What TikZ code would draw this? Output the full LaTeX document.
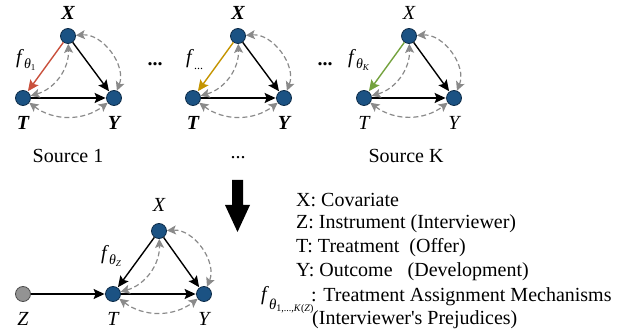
\documentclass[tikz,border=0pt]{standalone}
\usepackage{fontspec}
\setmainfont{Liberation Serif}
\newfontfamily\plainserif{Liberation Serif}
\usetikzlibrary{arrows.meta,shapes.geometric}
\definecolor{nodeblue}{HTML}{1B5283}
\definecolor{nodeedge}{HTML}{0E2C48}
\definecolor{dgray}{HTML}{8A8A8A}
\definecolor{fred}{HTML}{C9503C}
\definecolor{fgold}{HTML}{C49400}
\definecolor{fgreen}{HTML}{74A23E}
\newcommand{\fsub}[1]{\textit{f}\raisebox{-5pt}{\fontsize{14}{14}\selectfont #1}}
\newcommand{\thsub}[1]{\textit{θ}\raisebox{-2.5pt}{\fontsize{9}{9}\selectfont #1}}
\begin{document}
\begin{tikzpicture}[x=1pt,y=-1pt,
  vnode/.style={circle,draw=nodeedge,line width=0.8pt,fill=nodeblue,minimum size=15pt,inner sep=0pt},
  znode/.style={circle,draw=black!70,line width=0.8pt,fill=gray!85,minimum size=15pt,inner sep=0pt},
  lab/.style={font=\fontsize{20}{20}\selectfont\itshape,inner sep=0pt},
  blab/.style={font=\fontsize{20}{20}\selectfont\bfseries\itshape,inner sep=0pt},
  txt/.style={font=\fontsize{20}{20}\selectfont,inner sep=0pt,anchor=west},
  solid arrow/.style={line width=1.4pt,-{Stealth[length=11pt,width=10pt,inset=2pt]},shorten >=0.5pt},
  bidir/.style={dgray,line width=1.2pt,dash pattern=on 5pt off 3pt,{Stealth[length=9pt,width=9pt,inset=2pt]}-{Stealth[length=9pt,width=9pt,inset=2pt]}},
  bxt/.style={bend right=38},
  bxy/.style={bend left=58},
  bty/.style={bend right=37},
  fl/.style={inner sep=0pt,anchor=west,font=\fontsize{20}{20}\selectfont},
]
\useasboundingbox (0,0) rectangle (628,336);

% ---------- Panel 1 ----------
\node[vnode] (X1) at (68,36) {};
\node[vnode] (T1) at (23,98) {};
\node[vnode] (Y1) at (114,98) {};
\node[blab] (lX1) at (68,13) {X};
\node[blab] (lT1) at (23,123) {T};
\node[blab] (lY1) at (114,123) {Y};
\node[txt,anchor=center] (s1) at (68,156) {Source 1};
\draw[solid arrow] (X1) -- (Y1);
\draw[solid arrow] (T1) -- (Y1);
\draw[solid arrow,fred] (X1) -- (T1);
\draw[bidir] (T1) to[bxt] (X1);
\draw[bidir] (X1) to[bxy] (Y1);
\draw[bidir] (T1) to[bty] (Y1);
\node[fl] (f1) at (16,60) {\fsub{\thsub{1}}};

% ---------- Panel 2 ----------
\node[vnode] (X2) at (238,36) {};
\node[vnode] (T2) at (193,98) {};
\node[vnode] (Y2) at (284,98) {};
\node[blab] (lX2) at (238,13) {X};
\node[blab] (lT2) at (193,123) {T};
\node[blab] (lY2) at (284,123) {Y};
\node[txt,anchor=center] (s2) at (238,158) {...};
\draw[solid arrow] (X2) -- (Y2);
\draw[solid arrow] (T2) -- (Y2);
\draw[solid arrow,fgold] (X2) -- (T2);
\draw[bidir] (T2) to[bxt] (X2);
\draw[bidir] (X2) to[bxy] (Y2);
\draw[bidir] (T2) to[bty] (Y2);
\node[fl] (f2) at (186,60) {\textit{f}\raisebox{-6pt}{\fontsize{12}{12}\selectfont ...}};

% ---------- Panel 3 ----------
\node[vnode] (X3) at (409,36) {};
\node[vnode] (T3) at (364,98) {};
\node[vnode] (Y3) at (454,98) {};
\node[lab] (lX3) at (409,13) {X};
\node[lab] (lT3) at (364,123) {T};
\node[lab] (lY3) at (454,123) {Y};
\node[txt,anchor=center] (s3) at (406,156) {Source K};
\draw[solid arrow] (X3) -- (Y3);
\draw[solid arrow] (T3) -- (Y3);
\draw[solid arrow,fgreen] (X3) -- (T3);
\draw[bidir] (T3) to[bxt] (X3);
\draw[bidir] (X3) to[bxy] (Y3);
\draw[bidir] (T3) to[bty] (Y3);
\node[fl] (f3) at (348,60) {\fsub{\thsub{\textit{K}}}};

% dots between panels
\node[font=\fontsize{20}{20}\selectfont\bfseries,inner sep=0pt] (d1) at (155,64) {...};
\node[font=\fontsize{20}{20}\selectfont\bfseries,inner sep=0pt] (d2) at (325,64) {...};

% ---------- big arrow ----------
\fill[black] (232,180) -- (243,180) -- (243,205) -- (250,205) -- (237.5,232) -- (225,205) -- (232,205) -- cycle;

% ---------- Bottom graph ----------
\node[vnode] (X4) at (159,231) {};
\node[vnode] (T4) at (113,294) {};
\node[vnode] (Y4) at (204,294) {};
\node[znode] (Z4) at (23,294) {};
\node[lab] (lX4) at (159,205) {X};
\node[lab] (lT4) at (113,319) {T};
\node[lab] (lY4) at (204,319) {Y};
\node[lab] (lZ4) at (23,319) {Z};
\draw[solid arrow] (X4) -- (Y4);
\draw[solid arrow] (T4) -- (Y4);
\draw[solid arrow] (X4) -- (T4);
\draw[solid arrow] (Z4) -- (T4);
\draw[bidir] (T4) to[bxt] (X4);
\draw[bidir] (X4) to[bxy] (Y4);
\draw[bidir] (T4) to[bty] (Y4);
\node[fl] (f4) at (101,256) {\fsub{\thsub{\textit{Z}}}};

% ---------- Legend ----------
\node[txt] (L1) at (296,200) {X: Covariate};
\node[txt] (L2) at (296,224) {Z: Instrument (Interviewer)};
\node[txt] (L3) at (296,248) {T: Treatment\ \ (Offer)};
\node[txt] (L4) at (296,272) {Y: Outcome\ \ \ (Development)};
\node[fl] (Lf) at (261,300) {\textit{f}\raisebox{-9pt}{\fontsize{15}{15}\selectfont\textit{θ}\raisebox{-2.5pt}{\fontsize{10}{10}\selectfont 1,...,\textit{K}(\textit{Z})}}};
\node[txt] (L5) at (311,297) {: Treatment Assignment Mechanisms};
\node[txt] (L6) at (312,320) {(Interviewer{\plainserif '}s Prejudices)};
\end{tikzpicture}
\end{document}
